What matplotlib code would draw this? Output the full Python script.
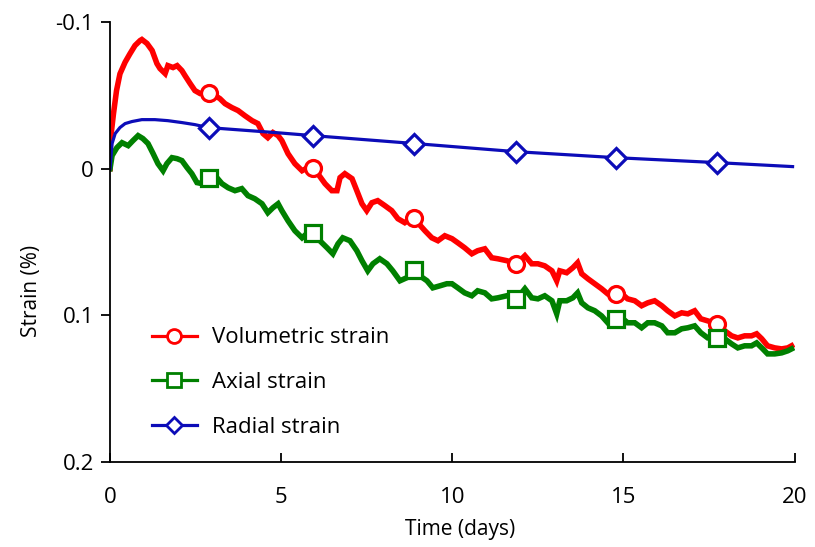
import matplotlib
matplotlib.use('Agg')
import matplotlib.pyplot as plt
from matplotlib.lines import Line2D

# values (time in days, strain in %)
vol_days = [0, 0.01, 0.10, 0.19, 0.29, 0.44, 0.58, 0.73, 0.88, 0.93, 1.08, 1.23, 1.37, 1.46, 1.61,
            1.69, 1.84, 1.96,
            2.10, 2.19, 2.34, 2.48, 2.63, 2.86, 3.07, 3.21, 3.36, 3.56, 3.74, 3.94, 4.15, 4.32,
            4.47, 4.61, 4.76, 4.91, 5.02, 5.20, 5.40, 5.61, 5.78, 5.93, 6.07, 6.28, 6.48, 6.63,
            6.72, 6.86, 7.07, 7.21, 7.36, 7.50, 7.65, 7.82, 8.03, 8.23, 8.41, 8.61, 8.82, 8.99,
            9.20, 9.40, 9.58, 9.78, 9.99, 10.16, 10.36, 10.57, 10.74, 10.95, 11.15, 11.33, 11.59,
            11.88, 12.12, 12.32, 12.50, 12.70, 12.91, 13.05, 13.14, 13.34, 13.52, 13.66, 13.78,
            13.96, 14.16, 14.36, 14.54, 14.74, 14.95, 15.12, 15.33, 15.53, 15.71, 15.91, 16.12,
            16.29, 16.50, 16.70, 16.88, 17.08, 17.26, 17.46, 17.72, 17.96, 18.16, 18.34, 18.54,
            18.74, 18.89, 19.04, 19.21, 19.42, 19.62, 19.80, 19.91]
vol_strain = [0, -0.019, -0.0373, -0.0532, -0.0646, -0.0725, -0.0782, -0.0839, -0.0873, -0.0880,
              -0.0853, -0.0805, -0.0716,
              -0.0682, -0.0648, -0.0702, -0.0689, -0.0702, -0.0668, -0.0634, -0.0580, -0.0532,
              -0.0512, -0.0518, -0.0498, -0.0477, -0.0443, -0.0416, -0.0396, -0.0361, -0.0327,
              -0.0307, -0.0239, -0.0211, -0.0246, -0.0225, -0.0191, -0.0102, -0.0034, 0.0014,
              -0.0007, -0.0007, 0.0034, 0.0102, 0.0150, 0.0150, 0.0061, 0.0034, 0.0068, 0.0150,
              0.0239, 0.0286, 0.0232, 0.0218, 0.0252, 0.0286, 0.0341, 0.0368, 0.0334, 0.0368,
              0.0423, 0.0471, 0.0491, 0.0457, 0.0477, 0.0505, 0.0539, 0.0580, 0.0559, 0.0546,
              0.0607, 0.0614, 0.0627, 0.0648, 0.0593, 0.0648, 0.0648, 0.0662, 0.0696, 0.0764,
              0.0696, 0.0709, 0.0675, 0.0641, 0.0716, 0.0750, 0.0784, 0.0818, 0.0853, 0.0853,
              0.0853, 0.0887, 0.0900, 0.0934, 0.0914, 0.0900, 0.0934, 0.0968, 0.1003, 0.0982,
              0.0989, 0.0968, 0.1023, 0.1037, 0.1057, 0.1105, 0.1139, 0.1153, 0.1139, 0.1139,
              0.1125, 0.1159, 0.1207, 0.1221, 0.1228, 0.1221, 0.1207]

ax_days = [0, 0.06, 0.20, 0.35, 0.53, 0.67, 0.82, 0.96, 1.11, 1.26, 1.40, 1.55, 1.66, 1.81, 1.96,
           2.10, 2.25, 2.39, 2.54, 2.69, 2.92, 3.12, 3.27, 3.45, 3.65, 3.85, 4.03, 4.23, 4.44,
           4.61, 4.76, 4.91, 5.02, 5.20, 5.40, 5.61, 5.78, 5.93, 6.13, 6.34, 6.51, 6.66, 6.80,
           7.01, 7.21, 7.36, 7.53, 7.68, 7.88, 8.09, 8.26, 8.47, 8.67, 8.85, 9.05, 9.26, 9.43,
           9.64, 9.84, 9.99, 10.16, 10.36, 10.57, 10.74, 10.95, 11.15, 11.33, 11.59, 11.88,
           12.12, 12.32, 12.50, 12.70, 12.91, 13.05, 13.14, 13.34, 13.52, 13.66, 13.78, 13.96,
           14.16, 14.36, 14.54, 14.74, 14.95, 15.12, 15.33, 15.53, 15.71, 15.91, 16.12, 16.29,
           16.50, 16.70, 16.88, 17.08, 17.26, 17.46, 17.72, 17.96, 18.16, 18.34, 18.54, 18.74,
           18.89, 19.04, 19.21, 19.42, 19.62, 19.80, 19.91]
ax_strain = [0, -0.0089, -0.0143, -0.0177, -0.0157, -0.0191, -0.0225, -0.0205, -0.0171, -0.0102,
             -0.0034, 0.0014, -0.0034, -0.0075, -0.0068, -0.0055, -0.0007, 0.0034, 0.0095, 0.0102,
             0.0061, 0.0061, 0.0102, 0.0130, 0.0150, 0.0136, 0.0184, 0.0205, 0.0239, 0.0300,
             0.0266, 0.0239, 0.0286, 0.0355, 0.0423, 0.0471, 0.0436, 0.0436, 0.0491, 0.0539,
             0.0580, 0.0512, 0.0471, 0.0491, 0.0559, 0.0627, 0.0696, 0.0648, 0.0614, 0.0648,
             0.0696, 0.0764, 0.0743, 0.0696, 0.0730, 0.0764, 0.0812, 0.0798, 0.0784, 0.0784,
             0.0812, 0.0846, 0.0866, 0.0832, 0.0846, 0.0887, 0.0880, 0.0866, 0.0887, 0.0818,
             0.0880, 0.0887, 0.0866, 0.0900, 0.0989, 0.0900, 0.0900, 0.0880, 0.0846, 0.0914,
             0.0948, 0.0968, 0.1003, 0.1050, 0.1023, 0.1016, 0.1050, 0.1050, 0.1084, 0.1050,
             0.1050, 0.1071, 0.1118, 0.1118, 0.1091, 0.1084, 0.1071, 0.1118, 0.1153, 0.1159,
             0.1159, 0.1194, 0.1221, 0.1207, 0.1207, 0.1187, 0.1221, 0.1262, 0.1262, 0.1255,
             0.1241, 0.1228]

rad_days = [0, 0.06, 0.15, 0.29, 0.44, 0.64, 0.93, 1.31, 1.69, 2.10, 2.48, 2.86, 4.82, 5.93,
            8.91, 11.85, 14.77, 17.75, 19.94]
rad_strain = [0, -0.0171, -0.0239, -0.0280, -0.0307, -0.0321, -0.0334, -0.0334, -0.0327, -0.0314,
              -0.0300, -0.0280, -0.0246, -0.0225, -0.0171, -0.0116, -0.0075, -0.0041, -0.0014]

# marker positions
mark_days = [2.88, 5.93, 8.87, 11.87, 14.78, 17.74]
vol_marks = [-0.0518, -0.0007, 0.0334, 0.0648, 0.0853, 0.1057]
ax_marks = [0.0061, 0.0436, 0.0690, 0.0887, 0.1023, 0.1155]
rad_marks = [-0.0280, -0.0225, -0.0171, -0.0116, -0.0075, -0.0041]

labels = ['Volumetric strain', 'Axial strain', 'Radial strain']
yticks = [-0.1, 0, 0.1, 0.2]
ytick_labels = ['-0.1', '0', '0.1', '0.2']
xticks = [0, 5, 10, 15, 20]

red = '#FF0000'
green = '#008000'
blue = '#0C0CB8'

plt.rcParams['font.family'] = ['Open Sans', 'DejaVu Sans']

fig = plt.figure(figsize=(8.15, 5.47), dpi=100)
ax = fig.add_axes([0.135, 0.155, 0.84, 0.805])

ax.plot(vol_days, vol_strain, color=red, lw=4, solid_joinstyle='miter')
ax.plot(mark_days, vol_marks, 'o', ms=11.5, mfc='white', mec=red, mew=2.3, ls='none')
ax.plot(ax_days, ax_strain, color=green, lw=4, solid_joinstyle='miter')
ax.plot(mark_days, ax_marks, 's', ms=11, mfc='white', mec=green, mew=2.3, ls='none')
ax.plot(rad_days, rad_strain, color=blue, lw=2.3)
ax.plot(mark_days, rad_marks, 'D', ms=10, mfc='white', mec=blue, mew=2.3, ls='none')

ax.set_xlim(0, 20)
ax.set_ylim(0.2, -0.1)
ax.set_xticks(xticks)
ax.set_yticks(yticks)
ax.set_yticklabels(ytick_labels)

for s in ['top', 'right']:
    ax.spines[s].set_visible(False)
for s in ['left', 'bottom']:
    ax.spines[s].set_linewidth(1.3)
ax.tick_params(axis='y', direction='out', length=6.5, width=1.3, labelsize=16, pad=5)
ax.tick_params(axis='x', direction='in', length=6.5, width=1.3, labelsize=16, pad=17.5)

ax.set_xlabel('Time (days)', fontsize=15)
ax.set_ylabel('Strain (%)', fontsize=15)
ax.xaxis.set_label_coords(0.512, -0.129)
ax.yaxis.set_label_coords(-0.1, 0.39)

handles = [
    Line2D([], [], color=red, lw=2.3, marker='o', ms=10, mfc='white', mec=red, mew=2),
    Line2D([], [], color=green, lw=2.3, marker='s', ms=9.5, mfc='white', mec=green, mew=2),
    Line2D([], [], color=blue, lw=2.3, marker='D', ms=8, mfc='white', mec=blue, mew=2),
]
ax.legend(handles, labels, loc='upper left', bbox_to_anchor=(0.061, 0.306), frameon=False,
          fontsize=16, borderpad=0, borderaxespad=0, handlelength=2.03,
          handletextpad=0.68, labelspacing=1.06)

fig.savefig('out.png', dpi=100)
